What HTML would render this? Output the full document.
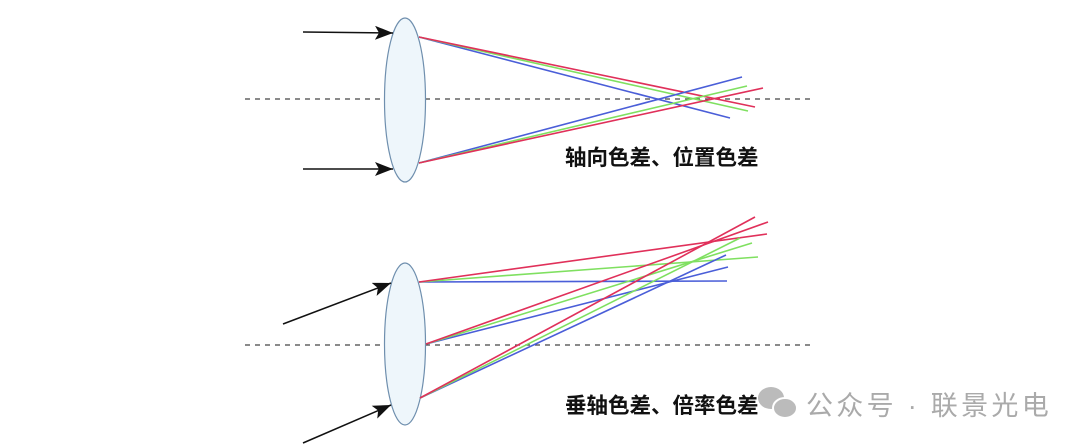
<!DOCTYPE html>
<html><head><meta charset="utf-8"><style>
html,body{margin:0;padding:0;background:#fff;width:1080px;height:447px;overflow:hidden}
</style></head><body>
<svg width="1080" height="447" xmlns="http://www.w3.org/2000/svg" style="position:absolute;left:0;top:0">
<defs>
<marker id="ah2" markerWidth="20" markerHeight="14" refX="18" refY="7" orient="auto" markerUnits="userSpaceOnUse">
<path d="M0,0 L18,7 L0,14 L4,7 z" fill="#111"/></marker>
</defs>
<g stroke="#444" stroke-width="1.2" stroke-dasharray="5,5">
<line x1="245" y1="99" x2="810" y2="99"/>
<line x1="245" y1="345" x2="810" y2="345"/>
</g>
<ellipse cx="405" cy="100" rx="20.5" ry="82" fill="#eef6fb" stroke="#6f8fae" stroke-width="1.2"/>
<ellipse cx="405" cy="344" rx="20.5" ry="81" fill="#eef6fb" stroke="#6f8fae" stroke-width="1.2"/>
<g stroke="#111" stroke-width="1.5">
<line x1="303" y1="32" x2="393" y2="33" marker-end="url(#ah2)"/>
<line x1="303" y1="169" x2="393" y2="169" marker-end="url(#ah2)"/>
<line x1="283" y1="324" x2="391" y2="283" marker-end="url(#ah2)"/>
<line x1="303" y1="443" x2="391" y2="405" marker-end="url(#ah2)"/>
</g>
<g stroke-width="1.6" fill="none">
<line x1="419" y1="37" x2="730" y2="118" stroke="#4a5ed8"/>
<line x1="419" y1="37" x2="748" y2="111" stroke="#7fe060"/>
<line x1="419" y1="37" x2="755" y2="107" stroke="#e0305a"/>
<line x1="419" y1="163" x2="742" y2="77" stroke="#4a5ed8"/>
<line x1="419" y1="163" x2="747" y2="86" stroke="#7fe060"/>
<line x1="419" y1="163" x2="763" y2="88" stroke="#e0305a"/>

<line x1="419" y1="282" x2="727" y2="281" stroke="#4a5ed8"/>
<line x1="419" y1="282" x2="758" y2="257" stroke="#7fe060"/>
<line x1="419" y1="282" x2="767" y2="234" stroke="#e0305a"/>
<line x1="426" y1="344" x2="728" y2="267" stroke="#4a5ed8"/>
<line x1="426" y1="344" x2="752" y2="243" stroke="#7fe060"/>
<line x1="426" y1="344" x2="768" y2="222" stroke="#e0305a"/>
<line x1="420" y1="398" x2="726" y2="255" stroke="#4a5ed8"/>
<line x1="420" y1="398" x2="740" y2="238" stroke="#7fe060"/>
<line x1="420" y1="398" x2="755" y2="217" stroke="#e0305a"/>
</g>
<g font-family="Liberation Sans, Noto Sans CJK SC, sans-serif" font-weight="bold" font-size="21.5" fill="#111">
<text x="565" y="165">轴向色差、位置色差</text>
<text x="565" y="413">垂轴色差、倍率色差</text>
</g>
<g fill="#bbb">
<ellipse cx="771" cy="398" rx="13" ry="11"/>
<ellipse cx="785" cy="408" rx="12" ry="10" stroke="#fff" stroke-width="2"/>
</g>
<text x="806" y="415" font-family="Liberation Sans, Noto Sans CJK SC, sans-serif" font-size="27" fill="#aaa" letter-spacing="3.3">公众号 · 联景光电</text>
</svg>
</body></html>
